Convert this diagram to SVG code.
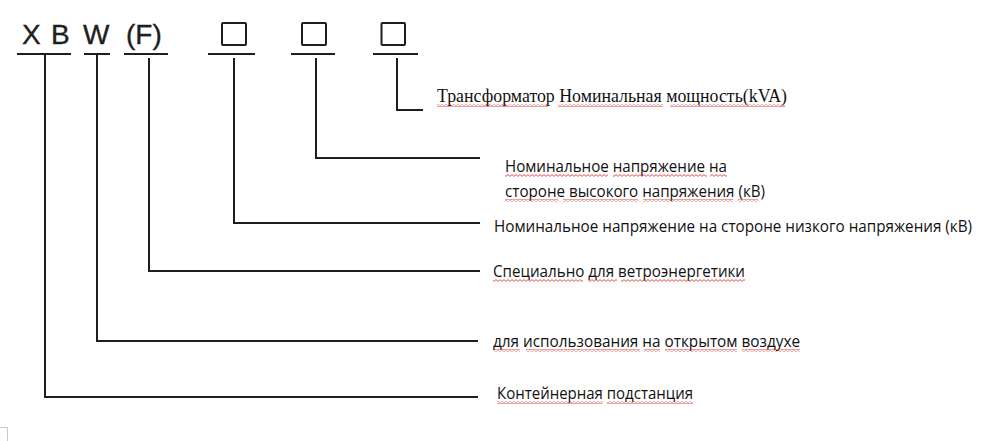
<svg xmlns="http://www.w3.org/2000/svg" width="996" height="441" viewBox="0 0 996 441">
<style>
.ln{fill:none;stroke:#1e1e1e;stroke-width:2}
.code{font-family:"Liberation Sans",Arial,sans-serif;font-size:28px;fill:#1e1e1e;stroke:#1e1e1e;stroke-width:0.35}
.lbl{font-family:"Open Sans","Noto Sans",sans-serif;font-size:16px;fill:#111}
.ser{font-family:"Liberation Serif","Times New Roman",serif;font-size:19.5px;fill:#111}
.sq{fill:url(#sqp)}
</style>
<defs>
<pattern id="sqp" patternUnits="userSpaceOnUse" width="4" height="3">
<path d="M0 0.6 L2 2.4 L4 0.6" fill="none" stroke="#d22" stroke-width="0.8"/>
</pattern>
</defs>
<rect width="996" height="441" fill="#fff"/>

<g id="code">
<text class="code" x="22" y="44">X</text>
<text class="code" x="51" y="44">B</text>
<text class="code" x="83" y="44">W</text>
<text class="code" x="126" y="44">(F)</text>
<rect class="ln" x="222" y="23" width="24" height="22" rx="1"/>
<rect class="ln" x="302" y="23" width="24" height="22" rx="1"/>
<rect class="ln" x="381.5" y="23" width="23.5" height="22" rx="1"/>
</g>

<g id="connectors">
<path class="ln" d="M17 54H71M45 54V397H478"/>
<path class="ln" d="M84 54H110M97 54V341H478"/>
<path class="ln" d="M124 54H168M149 58V271H480"/>
<path class="ln" d="M208 54H255M234 58V223H480"/>
<path class="ln" d="M291 54H335M316 58V158H480"/>
<path class="ln" d="M373 54H418M397 58V110H423"/>
</g>

<g id="label-power">
<text class="ser" x="437" y="102" textLength="350" lengthAdjust="spacingAndGlyphs">Трансформатор Номинальная мощность(kVA)</text>
<rect class="sq" x="437" y="104" width="111" height="3"/>
<rect class="sq" x="558" y="104" width="105" height="3"/>
<rect class="sq" x="670" y="104" width="115" height="3"/>
</g>

<g id="label-hv">
<text class="lbl" x="505" y="172" textLength="222" lengthAdjust="spacingAndGlyphs">Номинальное напряжение на</text>
<text class="lbl" x="505" y="197" textLength="260" lengthAdjust="spacingAndGlyphs">стороне высокого напряжения (кВ)</text>
<rect class="sq" x="505" y="174" width="103" height="3"/>
<rect class="sq" x="613" y="174" width="94" height="3"/>
<rect class="sq" x="710" y="174" width="17" height="3"/>
<rect class="sq" x="505" y="199" width="53" height="3"/>
<rect class="sq" x="563" y="199" width="75" height="3"/>
<rect class="sq" x="643" y="199" width="90" height="3"/>
<rect class="sq" x="738" y="199" width="20" height="3"/>
</g>

<g id="label-lv">
<text class="lbl" x="494" y="232" textLength="478" lengthAdjust="spacingAndGlyphs">Номинальное напряжение на стороне низкого напряжения (кВ)</text>
</g>

<g id="label-wind">
<text class="lbl" x="493" y="277" textLength="252" lengthAdjust="spacingAndGlyphs">Специально для ветроэнергетики</text>
<rect class="sq" x="493" y="279" width="90" height="3"/>
<rect class="sq" x="588" y="279" width="29" height="3"/>
<rect class="sq" x="621" y="279" width="124" height="3"/>
</g>

<g id="label-outdoor">
<text class="lbl" x="493" y="347" textLength="307" lengthAdjust="spacingAndGlyphs">для использования на открытом воздухе</text>
<rect class="sq" x="493" y="349" width="27" height="3"/>
<rect class="sq" x="526" y="349" width="114" height="3"/>
<rect class="sq" x="644" y="349" width="16" height="3"/>
<rect class="sq" x="665" y="349" width="72" height="3"/>
<rect class="sq" x="742" y="349" width="58" height="3"/>
</g>

<g id="label-container">
<text class="lbl" x="497" y="399" textLength="196" lengthAdjust="spacingAndGlyphs">Контейнерная подстанция</text>
<rect class="sq" x="497" y="401" width="106" height="3"/>
<rect class="sq" x="607" y="401" width="86" height="3"/>
</g>

<path d="M0 427.5H7.5V441" fill="none" stroke="#c8c8c8" stroke-width="1"/>
</svg>
